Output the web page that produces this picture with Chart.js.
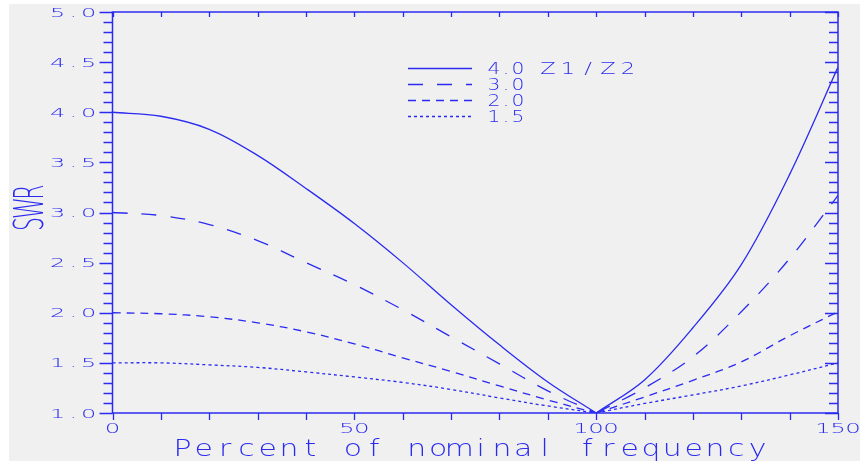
<!DOCTYPE html>
<html>
<head>
<meta charset="utf-8">
<title>SWR vs frequency</title>
<script src="https://cdn.jsdelivr.net/npm/chart.js@4.4.0/dist/chart.umd.min.js"></script>
<style>
    body { margin: 0; background: #fff; }
    canvas { display: block; }
</style>
</head>
<body>
<canvas id="chart" width="860" height="461"></canvas>
<script>
// Data
const freqLow = [0, 10, 20, 30, 40, 50, 60, 70, 80, 90, 100];
const freqHigh = [100, 110, 120, 130, 140, 150];

const swr40Low = [4.0, 3.96, 3.83, 3.57, 3.24, 2.89, 2.5, 2.08, 1.68, 1.31, 1.0];
const swr40High = [1.0, 1.33, 1.85, 2.48, 3.38, 4.45];
const swr30Low = [3.0, 2.97, 2.88, 2.72, 2.5, 2.28, 2.03, 1.76, 1.49, 1.22, 1.0];
const swr30High = [1.0, 1.25, 1.56, 2.01, 2.54, 3.17];
const swr20Low = [2.0, 1.99, 1.96, 1.9, 1.81, 1.69, 1.55, 1.415, 1.27, 1.13, 1.0];
const swr20High = [1.0, 1.16, 1.326, 1.51, 1.77, 2.01];
const swr15Low = [1.5, 1.5, 1.48, 1.455, 1.41, 1.36, 1.305, 1.235, 1.15, 1.07, 1.0];
const swr15High = [1.0, 1.095, 1.18, 1.27, 1.38, 1.5];

const ratioLabels = ["4.0", "3.0", "2.0", "1.5"];
const xTickLabels = [0, 50, 100, 150];
const yTickLabels = [1.0, 1.5, 2.0, 2.5, 3.0, 3.5, 4.0, 4.5, 5.0];

const blue = "#2b2bf0";
const dashes = [[], [15, 14], [8, 6], [3, 3]];

function pts(xs, ys) {
    return xs.map((x, i) => ({ x: x, y: ys[i] }));
}

const series = [
    [swr40Low, swr40High],
    [swr30Low, swr30High],
    [swr20Low, swr20High],
    [swr15Low, swr15High]
];

let datasets = [];
series.forEach((s, i) => {
    [[freqLow, s[0]], [freqHigh, s[1]]].forEach(part => {
        datasets.push({
            label: ratioLabels[i],
            data: pts(part[0], part[1]),
            borderColor: blue,
            borderWidth: 1.3,
            borderDash: dashes[i],
            pointRadius: 0,
            fill: false,
            tension: 0.35
        });
    });
});

// draws each character in a fixed-width cell, stretched sideways by sx
function spacedText(ctx, str, x, y, adv, sx, align) {
    let total = adv * str.length;
    let x0 = x;
    if (align === "center") x0 = x - total / 2;
    if (align === "right") x0 = x - total;
    for (let i = 0; i < str.length; i++) {
        ctx.save();
        ctx.translate(x0 + adv * (i + 0.5), y);
        ctx.scale(sx, 1);
        ctx.textAlign = "center";
        ctx.textBaseline = "alphabetic";
        ctx.fillText(str[i], 0, 0);
        ctx.restore();
    }
}

const FONT = '"DejaVu Sans", sans-serif';
const W = "200 ";

const frame = {
    id: "frame",
    beforeDraw(chart) {
        const ctx = chart.ctx;
        ctx.save();
        ctx.fillStyle = "#fff";
        ctx.fillRect(0, 0, chart.width, chart.height);
        ctx.fillStyle = "#f0f0f0";
        ctx.fillRect(9, 4, chart.width - 9, chart.height - 4);
        ctx.restore();
    },
    afterDraw(chart) {
        const ctx = chart.ctx;
        const a = chart.chartArea;
        const xs = chart.scales.x;
        const ys = chart.scales.y;
        ctx.save();
        ctx.strokeStyle = blue;
        ctx.lineWidth = 1.5;
        ctx.strokeRect(a.left, a.top, a.right - a.left, a.bottom - a.top);

        ctx.lineWidth = 1.3;
        ctx.beginPath();
        for (let k = 0; k <= 40; k++) {
            let v = 1 + k / 10;
            let y = Math.round(ys.getPixelForValue(v)) + 0.5;
            let len = (k % 5 === 0) ? 13 : 9;
            ctx.moveTo(a.left - len, y);
            ctx.lineTo(a.left, y);
            ctx.moveTo(a.right, y);
            ctx.lineTo(a.right - len, y);
        }
        for (let v = 0; v <= 150; v += 10) {
            let x = Math.round(xs.getPixelForValue(v)) + 0.5;
            ctx.moveTo(x, a.top);
            ctx.lineTo(x, a.top + 5);
            ctx.moveTo(x, a.bottom);
            ctx.lineTo(x, a.bottom + 7);
        }
        ctx.stroke();

        // tick labels
        ctx.fillStyle = blue;
        ctx.font = W + "12px " + FONT;
        yTickLabels.forEach(v => {
            spacedText(ctx, v.toFixed(1), 96.5, ys.getPixelForValue(v) + 4.5, 15.5, 2.0, "right");
        });
        ctx.font = W + "14px " + FONT;
        xTickLabels.forEach(v => {
            spacedText(ctx, String(v), xs.getPixelForValue(v), 433, 15, 1.75, "center");
        });

        // axis titles
        ctx.font = W + "23px " + FONT;
        spacedText(ctx, "Percent of nominal frequency", 470, 456, 21.3, 1.3, "center");

        ctx.save();
        ctx.translate(43, 208);
        ctx.rotate(-Math.PI / 2);
        ctx.font = W + "40px " + FONT;
        spacedText(ctx, "SWR", 0, 0, 16, 0.55, "center");
        ctx.restore();

        // legend
        const lx0 = 408, lx1 = 472;
        const rows = [68, 84, 100, 116];
        ctx.lineWidth = 1.3;
        rows.forEach((y, i) => {
            ctx.setLineDash(dashes[i]);
            ctx.beginPath();
            ctx.moveTo(lx0, y + 0.5);
            ctx.lineTo(lx1, y + 0.5);
            ctx.stroke();
        });
        ctx.setLineDash([]);
        ctx.font = W + "15px " + FONT;
        rows.forEach((y, i) => {
            spacedText(ctx, ratioLabels[i], 488, y + 6, 12, 1.35, "left");
        });
        spacedText(ctx, "Z1/Z2", 538, rows[0] + 6, 20, 1.5, "left");
        ctx.restore();
    }
};

new Chart(document.getElementById("chart"), {
    type: "line",
    data: { datasets: datasets },
    options: {
        responsive: false,
        animation: false,
        devicePixelRatio: 1,
        layout: { padding: { left: 0, right: 22, top: 12, bottom: 0 } },
        plugins: {
            legend: { display: false },
            tooltip: { enabled: false }
        },
        scales: {
            x: {
                type: "linear",
                min: 0,
                max: 150,
                ticks: { display: false, stepSize: 50 },
                grid: { display: false },
                border: { display: false },
                afterFit: s => { s.height = 48; }
            },
            y: {
                min: 1,
                max: 5,
                ticks: { display: false, stepSize: 0.5 },
                grid: { display: false },
                border: { display: false },
                afterFit: s => { s.width = 112.5; }
            }
        }
    },
    plugins: [frame]
});
</script>
</body>
</html>
